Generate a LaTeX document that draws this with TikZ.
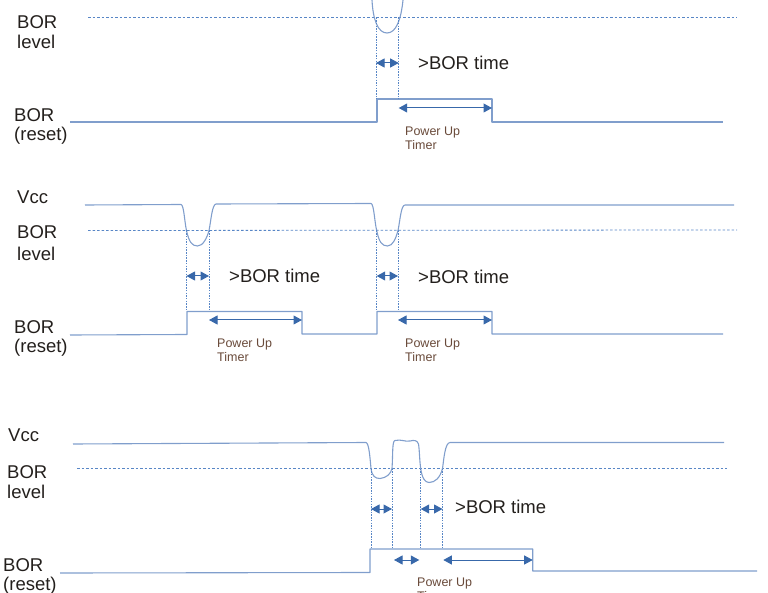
\documentclass[tikz,border=0pt]{standalone}
\usepackage{fontspec}
\setmainfont{Liberation Sans}
\usetikzlibrary{arrows.meta}

\definecolor{wavecol}{RGB}{128,158,204}
\definecolor{levelcol}{RGB}{88,134,198}
\definecolor{arrowcol}{RGB}{56,104,170}
\definecolor{txtcol}{RGB}{35,31,28}
\definecolor{putcol}{RGB}{105,74,58}

\begin{document}
\begin{tikzpicture}[x=1pt,y=-1pt,
    signal/.style={draw=wavecol,line width=1.1pt,line join=round},
    borlevel/.style={draw=levelcol,line width=0.8pt,dash pattern=on 2.5pt off 2pt},
    guide/.style={draw=levelcol,line width=0.6pt,dash pattern=on 1.5pt off 1.2pt},
    span/.style={draw=arrowcol,line width=1pt,{Triangle[length=8.5pt,width=9pt]}-{Triangle[length=8.5pt,width=9pt]}},
    lbl/.style={anchor=west,inner sep=0pt,text=txtcol,font=\fontsize{18.5}{20}\selectfont},
    put/.style={anchor=base west,inner sep=0pt,text=putcol,font=\fontsize{12.5}{14}\selectfont}]

    \useasboundingbox (0,0) rectangle (768,593);

% signal names on the left
      \foreach \n/\x/\y/\t in {
          la/17/22/BOR, lb/17/42/level, lc/14/115/BOR, ld/14/136/(reset),
          ma/17/197/Vcc, mb/17/232/BOR, mc/17/254/level, md/14/327/BOR, me/14/348/(reset),
          ba/8/435/Vcc, bb/7/472/BOR, bc/7/492/level, bd/3/565/BOR, be/3/586/(reset)}
      {
        \node[lbl] (\n) at (\x,\y) {\t};
      };

% BOR level
     \draw[borlevel] (88,17.5) -- (737,17.5);
     \draw[borlevel] (88,230.5) -- (737,230);
     \draw[borlevel] (77,468.5) -- (727,468.5);

% Vcc
     \draw[signal] (372,0) .. controls (373,20) and (378,33) .. (387,33)
        .. controls (396,33) and (401,20) .. (403,0);
     \draw[signal] (85,205) -- (181,204.5)
        .. controls (184,205) and (184.5,222) .. (186.5,230.5)
        .. controls (189,242) and (192,246) .. (197.5,246)
        .. controls (203,246) and (207,238) .. (209,230.5)
        .. controls (211,221) and (212,204.5) .. (216,204) -- (371,203.5)
        .. controls (374,204) and (374.5,222) .. (376.7,230.5)
        .. controls (379,242) and (382,246) .. (387.5,246)
        .. controls (393,246) and (396,238) .. (398,230.5)
        .. controls (400,221) and (401,205) .. (405,205) -- (734,205);
     \draw[signal] (73,444) -- (366,442.5)
        .. controls (369,443) and (370,458) .. (371,468.5)
        .. controls (372,476) and (375,478.5) .. (380,478.5)
        .. controls (386,478) and (391,474) .. (392,468.5)
        .. controls (393,455) and (392,441) .. (395,440.5)
        .. controls (401,439) and (405,442) .. (410,441)
        .. controls (414,440) and (417,440) .. (418.5,444)
        .. controls (419.5,450) and (419.5,460) .. (420.7,468.5)
        .. controls (422,478) and (425,482.5) .. (429,482.5)
        .. controls (435,482.5) and (440,478) .. (442.5,468.5)
        .. controls (444,458) and (445,443) .. (450,442.5) -- (724,442.5);

% BOR (reset)
     \draw[signal] (70,122) -- (377,122) -- (377,99) -- (492,99) -- (492,122) -- (723,122);
     \draw[signal] (70,335) -- (187,334.5) -- (187,311.5) -- (302,311.5) -- (302,334)
        -- (377,334) -- (377,311.5) -- (492,311.5) -- (492,334) -- (723,334);
     \draw[signal] (60,573) -- (370,572.5) -- (370,549) -- (532.7,549) -- (532.7,571) -- (757,571);

% guides from the BOR level down to the pulse
      \foreach \x/\ya/\yb in {376/17.5/99, 398.7/17.5/99,
          186.5/230.5/311.5, 209/230.5/311.5, 376.7/230.5/311.5, 398/230.5/311.5,
          371/468.5/549, 392/468.5/549, 420.7/468.5/549, 442.5/468.5/549}
      {
        \draw[guide] (\x,\ya) -- (\x,\yb);
      };

% >BOR time and Power Up Timer spans
      \foreach \n/\xa/\xb/\y in {
          s1/376/398.7/63, s2/398.7/492/108,
          s3/186.5/209/276, s4/209/302/320, s5/376.7/398/276, s6/398/492/320,
          s7/371/392/509, s8/420.7/442.5/509, s9/394/419.3/560, s10/443.3/532.7/560}
      {
        \coordinate (\n l) at (\xa,\y);
        \coordinate (\n r) at (\xb,\y);
        \draw[span] (\n l) -- (\n r);
      };

      \foreach \n/\x/\y in {t1/418/63, t2/229/276, t3/418/277, t4/455/507}
      {
        \node[lbl] (\n) at (\x,\y) {>BOR time};
      };

      \foreach \n/\x/\y in {p1/405/135.5, p2/217/347.5, p3/405/347.5, p4/417/586.5}
      {
        \node[put] (\n a) at (\x,\y) {Power Up};
        \node[put] (\n b) at (\x,\y+14) {Timer};
      };

    \end{tikzpicture}
\end{document}
